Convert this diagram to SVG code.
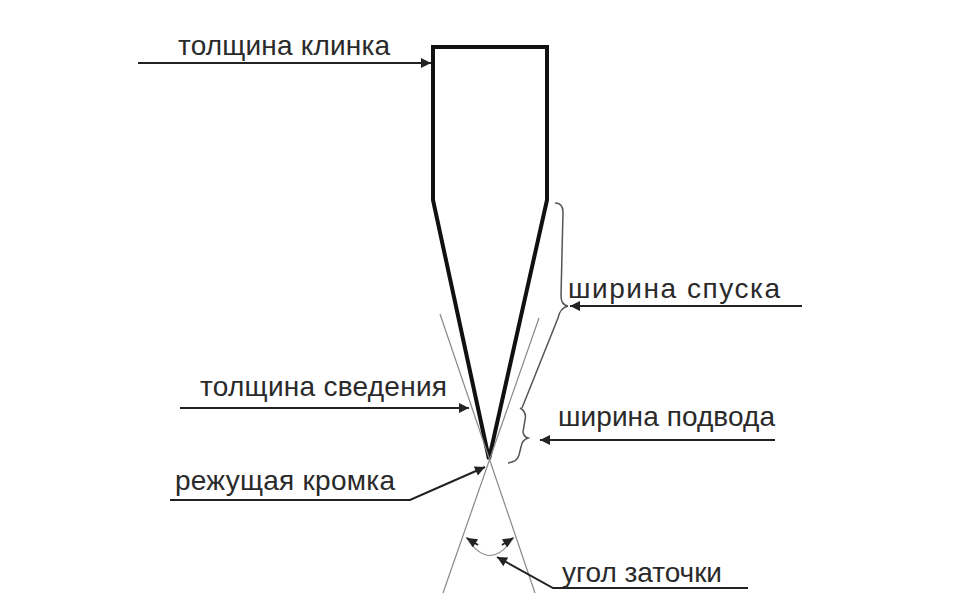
<svg xmlns="http://www.w3.org/2000/svg" width="974" height="610" viewBox="0 0 974 610">
<defs>
<marker id="ah" viewBox="0 0 10 10" refX="10" refY="5" markerWidth="12" markerHeight="10" markerUnits="userSpaceOnUse" orient="auto"><path d="M0,0 L10,5 L0,10 z" fill="#222"/></marker>
</defs>
<style>
text{font-family:"Liberation Sans",Arial,sans-serif;font-size:28px;fill:#2a2a2a}
.c{stroke:#222;stroke-width:2;fill:none}
.t{stroke:#888;stroke-width:1.2;fill:none}
.b{stroke:#555;stroke-width:1.5;fill:none}
</style>
<rect width="974" height="610" fill="#fff"/>
<g id="blade"><path d="M433,200 L433,47 L547,47 L547,200 L489,459 Z" stroke="#111" stroke-width="4" fill="none" stroke-linejoin="miter"/></g>
<g id="guides">
<line class="t" x1="440" y1="314" x2="535" y2="593"/>
<line class="t" x1="539" y1="318" x2="443" y2="593"/>
<path class="t" d="M466,537 Q490,574 514,537"/>
</g>
<g id="braces">
<path class="b" d="M555,203 Q563,203 563,212 L561,296 Q561,305 568,306 Q560,308 558,318 L522,408"/>
<path class="b" d="M520,408 Q527,412 525,420 L523,432 Q524,437 528,438 Q522,440 521,447 L519,455 Q517,462 508,463"/>
</g>
<g id="connectors">
<line class="c" x1="138" y1="63" x2="431" y2="63" marker-end="url(#ah)"/>
<line class="c" x1="180" y1="408" x2="469" y2="408" marker-end="url(#ah)"/>
<polyline class="c" points="170,500 410,500 485,467" marker-end="url(#ah)"/>
<line class="c" x1="802" y1="306" x2="570" y2="306" marker-end="url(#ah)"/>
<line class="c" x1="775" y1="440" x2="540" y2="440" marker-end="url(#ah)"/>
<polyline class="c" points="748,588 553,588 497,557" marker-end="url(#ah)"/>
<line class="c" x1="478" y1="545" x2="467" y2="538" marker-end="url(#ah)"/>
<line class="c" x1="502" y1="545" x2="513" y2="538" marker-end="url(#ah)"/>
</g>
<g id="labels">
<text x="178" y="55" textLength="212">толщина клинка</text>
<text x="200" y="396" textLength="247">толщина сведения</text>
<text x="175" y="490" textLength="220">режущая кромка</text>
<text x="568" y="298" textLength="212">ширина спуска</text>
<text x="558" y="426" textLength="217">ширина подвода</text>
<text x="562" y="582" textLength="160">угол заточки</text>
</g>
</svg>
